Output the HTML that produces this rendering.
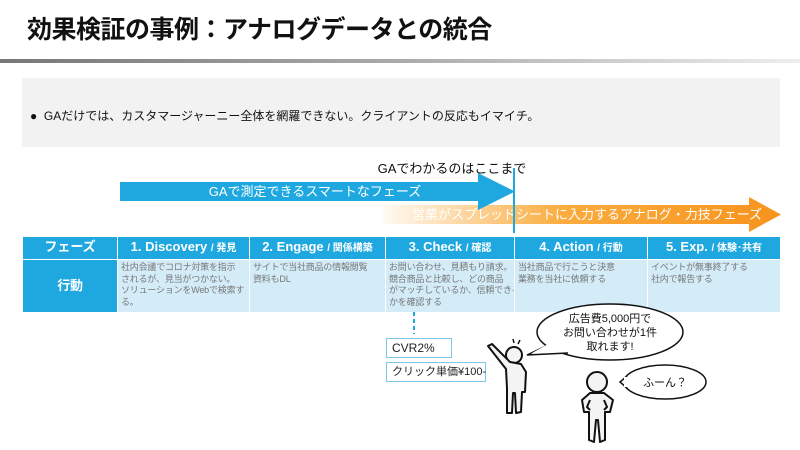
<!DOCTYPE html>
<html><head><meta charset="utf-8"><style>
*{margin:0;padding:0;box-sizing:border-box}
body{width:800px;height:450px;background:#fff;position:relative;overflow:hidden;font-family:"Liberation Sans","Noto Sans CJK JP",sans-serif}
.a{position:absolute}
.title{left:27px;top:10px;font-size:25px;font-weight:bold;color:#111;letter-spacing:-0.5px;white-space:nowrap}
.rule{left:0;top:59px;width:800px;height:4px;background:linear-gradient(90deg,#777,#aaa 50%,#eee)}
.gbox{left:22px;top:78px;width:758px;height:69px;background:#f2f2f2}
.bul{left:30px;top:107px;font-size:12px;color:#111;white-space:nowrap}
table{position:absolute;left:22px;top:236px;width:758px;border-collapse:collapse;table-layout:fixed}
td{border:1px solid #fff;vertical-align:top;overflow:hidden;white-space:nowrap}
.h td{background:#1fa8e0;color:#fff;font-weight:bold;font-size:13px;text-align:center;height:22px;line-height:20px}
.h td small{font-size:10px}
.b td{background:#d3ecf8;color:#777;font-size:9px;line-height:11.5px;height:53px;padding:2px 3px;letter-spacing:-0.2px}
.b td.k{background:#1fa8e0;color:#fff;font-weight:bold;font-size:13px;text-align:center;vertical-align:middle}
.bx{border:1px solid #7cc8ec;background:#fff;font-size:12px;color:#222;padding:0 5px;line-height:18px;white-space:nowrap}
</style></head><body>
<div class="a title">効果検証の事例：アナログデータとの統合</div>
<div class="a rule"></div>
<div class="a gbox"></div>
<div class="a bul">●&nbsp; GAだけでは、カスタマージャーニー全体を網羅できない。クライアントの反応もイマイチ。</div>
<table>
<colgroup><col style="width:95px"><col style="width:132px"><col style="width:136px"><col style="width:129px"><col style="width:133px"><col style="width:133px"></colgroup>
<tr class="h"><td>フェーズ</td><td>1. Discovery <small>/ 発見</small></td><td>2. Engage <small>/ 関係構築</small></td><td>3. Check <small>/ 確認</small></td><td>4. Action <small>/ 行動</small></td><td>5. Exp. <small>/ 体験･共有</small></td></tr>
<tr class="b"><td class="k">行動</td><td>社内会議でコロナ対策を指示<br>されるが、見当がつかない。<br>ソリューションをWebで検索す<br>る。</td><td>サイトで当社商品の情報閲覧<br>資料もDL</td><td>お問い合わせ、見積もり請求。<br>競合商品と比較し、どの商品<br>がマッチしているか、信頼できる<br>かを確認する</td><td>当社商品で行こうと決意<br>業務を当社に依頼する</td><td>イベントが無事終了する<br>社内で報告する</td></tr>
</table>
<svg class="a" style="left:0;top:0" width="800" height="450">
<defs><linearGradient id="og" x1="0" x2="1"><stop offset="0" stop-color="#f99d1c" stop-opacity="0.05"/><stop offset="0.45" stop-color="#f99d1c" stop-opacity="0.85"/><stop offset="1" stop-color="#f7931e"/></linearGradient></defs>
<polygon points="383,205 749,205 749,197 781,214.5 749,232 749,224 383,224" fill="url(#og)"/>
<polygon points="120,182 478,182 478,173 515,191.5 478,210 478,201 120,201" fill="#1fa8e0"/>
<text x="315" y="196" font-size="13" fill="#fff" text-anchor="middle">GAで測定できるスマートなフェーズ</text>
<text x="587" y="219" font-size="13" fill="#fff" text-anchor="middle">営業がスプレッドシートに入力するアナログ・力技フェーズ</text>
<text x="452" y="173" font-size="13" fill="#111" text-anchor="middle">GAでわかるのはここまで</text>
<line x1="514" y1="168" x2="514" y2="233" stroke="#1fa8e0" stroke-width="2"/>
<line x1="414" y1="312" x2="414" y2="334" stroke="#1fa8e0" stroke-width="2" stroke-dasharray="4,3"/>
<g fill="#fff" stroke="#111" stroke-width="1.5">
<ellipse cx="610" cy="332" rx="73" ry="28"/>
<path d="M548,345 L527,355 L568,353" />
<ellipse cx="665" cy="382" rx="41" ry="17"/>
<path d="M627,376 L620,382 L627,388"/>
</g>
<g fill="#fff" stroke="none"><path d="M550,343 L532,353 L568,350 Z"/><rect x="624" y="377" width="6" height="10"/></g>
<text x="610" y="322" font-size="11" fill="#111" text-anchor="middle">広告費5,000円で</text>
<text x="610" y="336" font-size="11" fill="#111" text-anchor="middle">お問い合わせが1件</text>
<text x="610" y="350" font-size="11" fill="#111" text-anchor="middle">取れます!</text>
<text x="665" y="386" font-size="11" fill="#111" text-anchor="middle">ふーん？</text>
<g fill="#f4f4f4" stroke="#111" stroke-width="2" stroke-linejoin="round">
<circle cx="514" cy="355" r="8"/>
<path d="M488,346 L492,344 L510,362 L521,364 L526,372 L525,392 L522,392 L521,412 L516,413 L515,393 L513,393 L512,413 L507,413 L507,388 L506,369 Z"/>
<circle cx="597" cy="382" r="10"/>
<path d="M590,393 L604,393 L613,400 L610,412 L605,412 L605,440 L600,442 L598,420 L596,420 L594,442 L589,440 L589,412 L584,412 L582,400 Z M590,400 L587,407 L590,410 M604,400 L607,407 L604,410"/>
</g>
<g stroke="#111" stroke-width="1.5"><line x1="514" y1="343" x2="513" y2="339"/><line x1="518" y1="344" x2="520" y2="340"/></g>
</svg>
<div class="a bx" style="left:386px;top:338px;width:66px">CVR2%</div>
<div class="a bx" style="left:386px;top:362px;width:100px;font-size:11px">クリック単価¥100-</div>
</body></html>
